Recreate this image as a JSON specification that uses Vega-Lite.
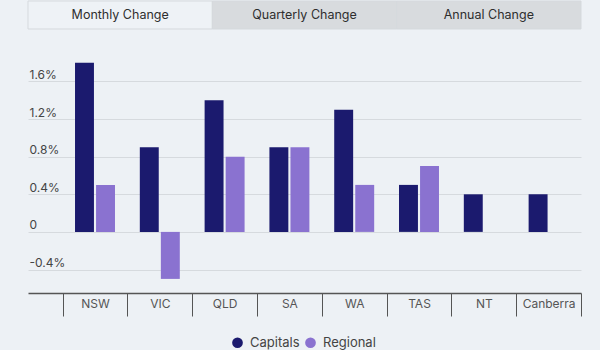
{
  "$schema": "https://vega.github.io/schema/vega-lite/v6.json",
  "background": "#edf1f5",
  "padding": {"left": 27, "top": 0, "right": 20, "bottom": 0},
  "config": {
    "view": {"stroke": null},
    "font": "Inter",
    "concat": {"spacing": 28}
  },
  "resolve": {"scale": {"color": "independent", "x": "independent"}},
  "vconcat": [
    {
      "width": 553,
      "height": 28,
      "data": {"values": [
        {"tab": "Monthly Change", "sel": "yes"},
        {"tab": "Quarterly Change", "sel": "no"},
        {"tab": "Annual Change", "sel": "no"}
      ]},
      "layer": [
        {
          "mark": {"type": "bar", "stroke": "#d5d9dd", "strokeWidth": 1},
          "encoding": {
            "x": {"field": "tab", "type": "nominal", "sort": null, "axis": null,
                  "scale": {"paddingInner": 0, "paddingOuter": 0}},
            "color": {"field": "sel", "type": "nominal", "legend": null,
                      "scale": {"domain": ["yes", "no"], "range": ["#eef2f6", "#d8dbde"]}}
          }
        },
        {
          "mark": {"type": "text", "fontSize": 12.5, "color": "#2e2e2e"},
          "encoding": {
            "x": {"field": "tab", "type": "nominal", "sort": null, "axis": null},
            "text": {"field": "tab"}
          }
        }
      ]
    },
    {
      "width": 553,
      "height": 235,
      "data": {"values": [
        {"region": "NSW", "series": "Capitals", "change": 1.8},
        {"region": "NSW", "series": "Regional", "change": 0.5},
        {"region": "VIC", "series": "Capitals", "change": 0.9},
        {"region": "VIC", "series": "Regional", "change": -0.5},
        {"region": "QLD", "series": "Capitals", "change": 1.4},
        {"region": "QLD", "series": "Regional", "change": 0.8},
        {"region": "SA", "series": "Capitals", "change": 0.9},
        {"region": "SA", "series": "Regional", "change": 0.9},
        {"region": "WA", "series": "Capitals", "change": 1.3},
        {"region": "WA", "series": "Regional", "change": 0.5},
        {"region": "TAS", "series": "Capitals", "change": 0.5},
        {"region": "TAS", "series": "Regional", "change": 0.7},
        {"region": "NT", "series": "Capitals", "change": 0.4},
        {"region": "Canberra", "series": "Capitals", "change": 0.4}
      ]},
      "mark": {"type": "bar"},
      "encoding": {
        "x": {
          "field": "region", "type": "nominal", "sort": null, "title": null,
          "scale": {"paddingInner": 0, "paddingOuter": 0.267, "align": 1},
          "axis": {
            "labelAngle": 0, "tickBand": "extent", "tickSize": 23, "tickColor": "#555555",
            "domainColor": "#555555", "domainWidth": 1.5, "labelPadding": -18,
            "labelFontSize": 12, "labelColor": "#555555", "labelBaseline": "top"
          }
        },
        "xOffset": {"field": "series", "type": "nominal",
                    "scale": {"paddingInner": 0.1, "paddingOuter": 0.59}},
        "y": {
          "field": "change", "type": "quantitative", "title": null,
          "scale": {"domain": [-0.65, 1.85], "nice": false, "zero": true},
          "axis": {
            "values": [-0.4, 0, 0.4, 0.8, 1.2, 1.6],
            "domain": false, "ticks": false, "grid": true, "gridColor": "#d6dade",
            "labelAlign": "left", "labelBaseline": "alphabetic", "labelPadding": -1,
            "labelOffset": -3, "labelFontSize": 12, "labelColor": "#444444",
            "labelExpr": "datum.value == 0 ? '0' : (datum.value < 0 ? '-' : '') + format(abs(datum.value), '.1f') + '%'"
          }
        },
        "color": {
          "field": "series", "type": "nominal", "title": null,
          "scale": {"domain": ["Capitals", "Regional"], "range": ["#1b1a6e", "#8a72d0"]},
          "legend": {
            "orient": "none", "legendX": 203, "legendY": 278,
            "direction": "horizontal", "symbolType": "circle",
            "symbolSize": 115, "labelFontSize": 13, "labelColor": "#444444",
            "columnPadding": 4, "labelOffset": 6, "symbolStrokeWidth": 0
          }
        }
      }
    }
  ]
}
